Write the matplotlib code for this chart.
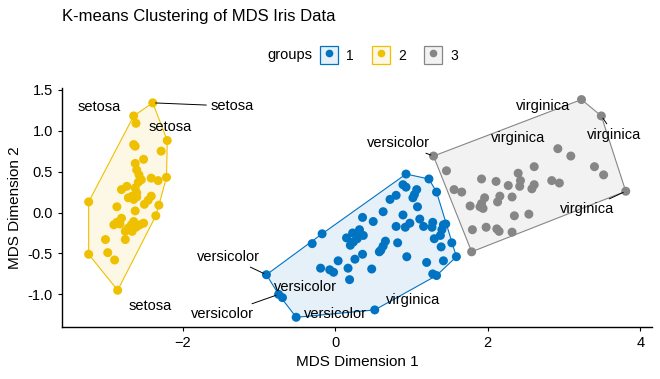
import matplotlib
matplotlib.use("Agg")
from matplotlib import pyplot as plt
from matplotlib.patches import Patch, Polygon
from matplotlib.lines import Line2D
from matplotlib.legend_handler import HandlerTuple
import numpy as np

plt.rcParams['font.family'] = ['Liberation Sans', 'DejaVu Sans']

groups = ['1', '2', '3']
colors = ['#0073C2', '#EFC000', '#868686']

# Cluster 1 (blue)
x1 = [0.93, 1.23, 1.33, 1.59, 1.33, 1.28, 0.52, -0.51, -0.69, -0.74, -0.90, -0.30, -0.17,
      0.89, 0.93, 1.07, 1.04, 1.02, 0.80, 0.72, 1.08, 0.63, 0.89, 0.36, 0.50, 1.11,
      0.80, 0.92, 0.98, 1.16, 1.28, 1.27, 1.42, 1.45, 1.40, 1.38, 1.30, 1.53, 1.39,
      1.42, 1.20, 0.94, 0.82, 0.66, 0.63, 0.60, 0.58, 0.48, 0.15, 0.23, 0.28, 0.32,
      0.37, 0.24, 0.29, 0.20, 0.36, 0.26, 0.04, 0.17, -0.19, -0.07, -0.02, 0.19]
y1 = [0.47, 0.41, 0.25, -0.54, -0.77, -0.75, -1.19, -1.28, -1.04, -1.00, -0.76, -0.38, -0.26,
      0.34, 0.31, 0.28, 0.22, 0.18, 0.21, 0.16, 0.07, 0.01, -0.03, -0.06, -0.11, -0.08,
      -0.17, -0.18, -0.13, -0.17, -0.12, -0.18, -0.15, -0.14, -0.21, -0.28, -0.32, -0.37, -0.42,
      -0.59, -0.61, -0.54, -0.37, -0.35, -0.41, -0.46, -0.48, -0.69, -0.31, -0.25, -0.28, -0.21,
      -0.28, -0.36, -0.32, -0.40, -0.51, -0.57, -0.59, -0.68, -0.68, -0.70, -0.73, -0.82]

# Cluster 2 (yellow)
x2 = [-2.39, -2.64, -3.23, -3.23, -2.85, -2.35, -2.31, -2.21, -2.20,
      -2.61, -2.64, -2.62, -2.28, -2.51, -2.62, -2.60, -2.57, -2.54, -2.58, -2.41,
      -2.32, -2.73, -2.80, -2.62, -2.60, -2.66, -2.71, -2.64, -2.60, -2.41, -2.45,
      -2.86, -2.62, -2.80, -2.86, -2.90, -2.82, -2.64, -2.67, -2.71, -2.75, -2.61,
      -2.56, -2.51, -2.66, -2.75, -3.01, -2.98, -2.89, -2.50]
y2 = [1.34, 1.18, 0.13, -0.51, -0.95, -0.04, 0.09, 0.43, 0.88,
      1.09, 0.83, 0.81, 0.75, 0.65, 0.60, 0.52, 0.46, 0.40, 0.37, 0.42,
      0.39, 0.32, 0.28, 0.30, 0.24, 0.20, 0.18, 0.16, 0.19, 0.20, 0.15,
      0.07, 0.02, -0.07, -0.12, -0.15, -0.14, -0.11, -0.15, -0.19, -0.23, -0.18,
      -0.15, -0.13, -0.23, -0.33, -0.33, -0.49, -0.58, 0.10]

# Cluster 3 (grey)
x3 = [3.23, 3.49, 3.81, 1.79, 1.29,
      2.92, 3.09, 3.40, 3.52, 2.61, 2.84, 2.94, 2.40, 2.43, 2.42, 2.61, 2.58, 2.27,
      2.11, 1.92, 1.46, 1.56, 1.66, 2.32, 2.16, 2.13, 1.96, 1.92, 1.94, 1.90, 1.77,
      2.35, 2.54, 1.80, 1.98, 2.12, 2.15, 2.32]
y3 = [1.38, 1.18, 0.26, -0.48, 0.69,
      0.78, 0.69, 0.56, 0.46, 0.56, 0.39, 0.36, 0.48, 0.39, 0.32, 0.34, 0.29, 0.33,
      0.38, 0.41, 0.51, 0.28, 0.25, 0.19, 0.20, 0.13, 0.18, 0.11, 0.05, 0.07, 0.08,
      -0.04, -0.02, -0.21, -0.18, -0.20, -0.23, -0.24]

# Repelled species labels (position) and the point they point to (nan = no segment)
label_text = ['setosa', 'setosa', 'setosa', 'setosa',
              'versicolor', 'versicolor', 'versicolor', 'versicolor', 'versicolor',
              'virginica', 'virginica', 'virginica', 'virginica', 'virginica']
label_x = [-3.09, -1.35, -2.16, -2.42, 0.83, -1.40, -0.39, -1.47, 0.00, 1.02, 2.72, 2.40, 3.66, 3.30]
label_y = [1.29, 1.30, 1.05, -1.14, 0.85, -0.54, -0.91, -1.24, -1.24, -1.07, 1.30, 0.91, 0.95, 0.04]
seg_x = [np.nan, -2.39, np.nan, np.nan, 1.29, -0.90, np.nan, -0.74, np.nan, np.nan, np.nan, np.nan, 3.49, 3.81]
seg_y = [np.nan, 1.34, np.nan, np.nan, 0.69, -0.76, np.nan, -1.00, np.nan, np.nan, np.nan, np.nan, 1.18, 0.26]


def convex_hull(points):
    """Monotone chain convex hull, returns vertices in order."""
    pts = sorted(map(tuple, points))

    def cross(o, a, b):
        return (a[0] - o[0]) * (b[1] - o[1]) - (a[1] - o[1]) * (b[0] - o[0])

    lower, upper = [], []
    for p in pts:
        while len(lower) >= 2 and cross(lower[-2], lower[-1], p) <= 0:
            lower.pop()
        lower.append(p)
    for p in reversed(pts):
        while len(upper) >= 2 and cross(upper[-2], upper[-1], p) <= 0:
            upper.pop()
        upper.append(p)
    return np.array(lower[:-1] + upper[:-1])


fig = plt.figure(figsize=(6.6, 3.79), dpi=100)
ax = fig.add_axes([0.0939, 0.138, 0.8935, 0.6306])

clusters = [(x1, y1), (x2, y2), (x3, y3)]
for (xs, ys), c in zip(clusters, colors):
    hull = convex_hull(np.column_stack([xs, ys]))
    ax.add_patch(Polygon(hull, closed=True, facecolor=c, alpha=0.1, edgecolor='none', zorder=1))
    ax.add_patch(Polygon(hull, closed=True, fill=False, edgecolor=c, lw=0.8, zorder=2))
    ax.scatter(xs, ys, s=42, color=c, edgecolors='none', zorder=3)

# Labels
for t, lx, ly, sx, sy in zip(label_text, label_x, label_y, seg_x, seg_y):
    if np.isnan(sx):
        ax.text(lx, ly, t, ha='center', va='center', fontsize=10.5, zorder=4)
    else:
        ax.annotate(t, xy=(sx, sy), xytext=(lx, ly), ha='center', va='center',
                    fontsize=10.5, zorder=4,
                    arrowprops=dict(arrowstyle='-', color='black', lw=0.7,
                                    shrinkA=1, shrinkB=2))

ax.set_xlim(-3.58, 4.15)
ax.set_ylim(-1.395, 1.525)
ax.set_xticks([-2, 0, 2, 4])
ax.set_yticks([-1.0, -0.5, 0.0, 0.5, 1.0, 1.5])
ax.set_yticklabels(['-1.0', '-0.5', '0.0', '0.5', '1.0', '1.5'])
ax.tick_params(direction='out', length=3, width=0.8, labelsize=10.5, colors='black')
for side in ['top', 'right']:
    ax.spines[side].set_visible(False)
for side in ['left', 'bottom']:
    ax.spines[side].set_linewidth(1.0)
ax.set_xlabel("MDS Dimension 1", fontsize=11)
ax.set_ylabel("MDS Dimension 2", fontsize=11)

fig.text(62 / 660, 1 - 17 / 379, "K-means Clustering of MDS Iris Data",
         fontsize=12, ha='left', va='center')

# Legend
fig.text(267 / 660, 1 - 55 / 379, "groups", fontsize=10.5, ha='left', va='center')
handles = []
for c in colors:
    box = Patch(facecolor=matplotlib.colors.to_rgba(c, 0.1), edgecolor=c, lw=0.9)
    dot = Line2D([], [], marker='o', color=c, linestyle='', markersize=4.5)
    handles.append((box, dot))
fig.legend(handles, groups, loc='center left', bbox_to_anchor=(320 / 660, 1 - 55 / 379),
           ncol=3, frameon=False, handler_map={tuple: HandlerTuple(ndivide=1, pad=0)},
           handlelength=1.3, handleheight=1.6, handletextpad=0.6,
           columnspacing=1.3, fontsize=10, borderpad=0, borderaxespad=0)

fig.savefig("out.png", dpi=100)
